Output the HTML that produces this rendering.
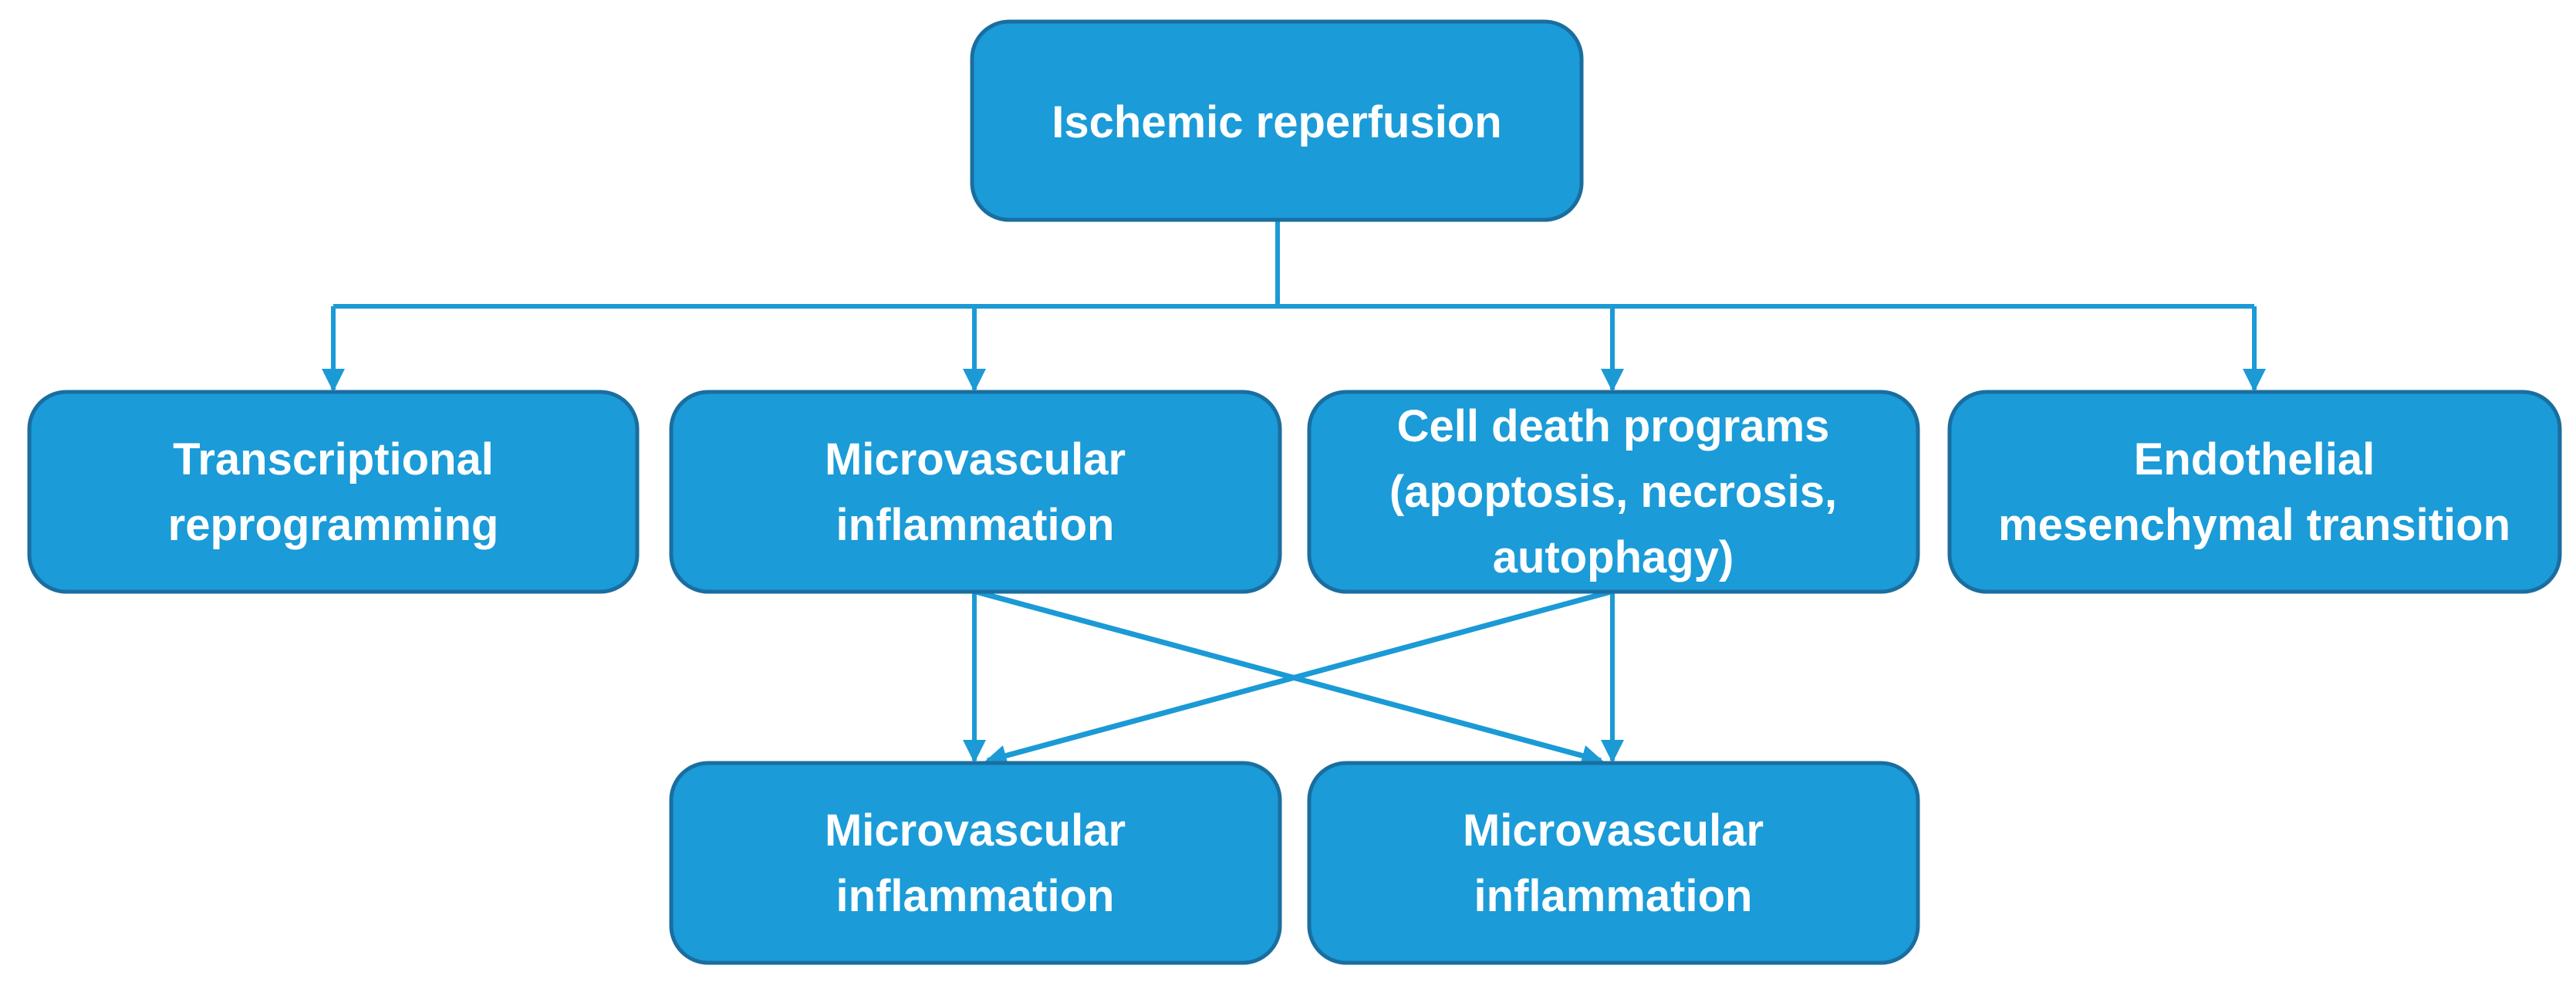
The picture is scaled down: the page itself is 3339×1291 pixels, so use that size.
<!DOCTYPE html>
<html><head><meta charset="utf-8"><style>
html,body{margin:0;padding:0;background:#fff;}
svg{display:block;}
text{font-family:"Liberation Sans",Arial,sans-serif;font-weight:bold;fill:#fff;font-size:58px;text-anchor:middle;}
</style></head><body>
<svg width="3339" height="1291" viewBox="0 0 3339 1291" xmlns="http://www.w3.org/2000/svg">
<defs>
<marker id="a" markerWidth="5" markerHeight="5" refX="4.5" refY="2.5" orient="auto" markerUnits="strokeWidth">
<path d="M0,0 L5,2.5 L0,5 z" fill="#1b9ad6"/></marker>
<marker id="b" markerWidth="4" markerHeight="4" refX="3.5" refY="2" orient="auto" markerUnits="strokeWidth">
<path d="M0,0 L4,2 L0,4 z" fill="#1b9ad6"/></marker>
</defs>
<g stroke="#1b9ad6" stroke-width="6" fill="none">
<line x1="1656" y1="285" x2="1656" y2="397"/>
<line x1="432" y1="397" x2="2922" y2="397"/>
<line x1="432" y1="397" x2="432" y2="505" marker-end="url(#a)"/>
<line x1="1263" y1="397" x2="1263" y2="505" marker-end="url(#a)"/>
<line x1="2090" y1="397" x2="2090" y2="505" marker-end="url(#a)"/>
<line x1="2922" y1="397" x2="2922" y2="505" marker-end="url(#a)"/>
<line x1="1263" y1="767" x2="1263" y2="986" marker-end="url(#a)"/>
<line x1="2090" y1="767" x2="2090" y2="986" marker-end="url(#a)"/>
<line x1="1265" y1="767" x2="2075" y2="986" stroke-width="7" marker-end="url(#b)"/>
<line x1="2088" y1="767" x2="1280" y2="986" stroke-width="7" marker-end="url(#b)"/>
</g>
<g fill="#1b9bd8" stroke="#1a6e9f" stroke-width="5">
<rect x="1260" y="28" width="790" height="257" rx="48"/>
<rect x="38" y="508" width="788" height="259" rx="48"/>
<rect x="870" y="508" width="789" height="259" rx="48"/>
<rect x="1697" y="508" width="789" height="259" rx="48"/>
<rect x="2527" y="508" width="791" height="259" rx="48"/>
<rect x="870" y="989" width="789" height="259" rx="48"/>
<rect x="1697" y="989" width="789" height="259" rx="48"/>
</g>
<text x="1655" y="178">Ischemic reperfusion</text>
<text x="432" y="615">Transcriptional</text>
<text x="432" y="700">reprogramming</text>
<text x="1264" y="615">Microvascular</text>
<text x="1264" y="700">inflammation</text>
<text x="2091" y="572">Cell death programs</text>
<text x="2091" y="657">(apoptosis, necrosis,</text>
<text x="2091" y="742">autophagy)</text>
<text x="2922" y="615">Endothelial</text>
<text x="2922" y="700">mesenchymal transition</text>
<text x="1264" y="1096">Microvascular</text>
<text x="1264" y="1181">inflammation</text>
<text x="2091" y="1096">Microvascular</text>
<text x="2091" y="1181">inflammation</text>
</svg>
</body></html>
